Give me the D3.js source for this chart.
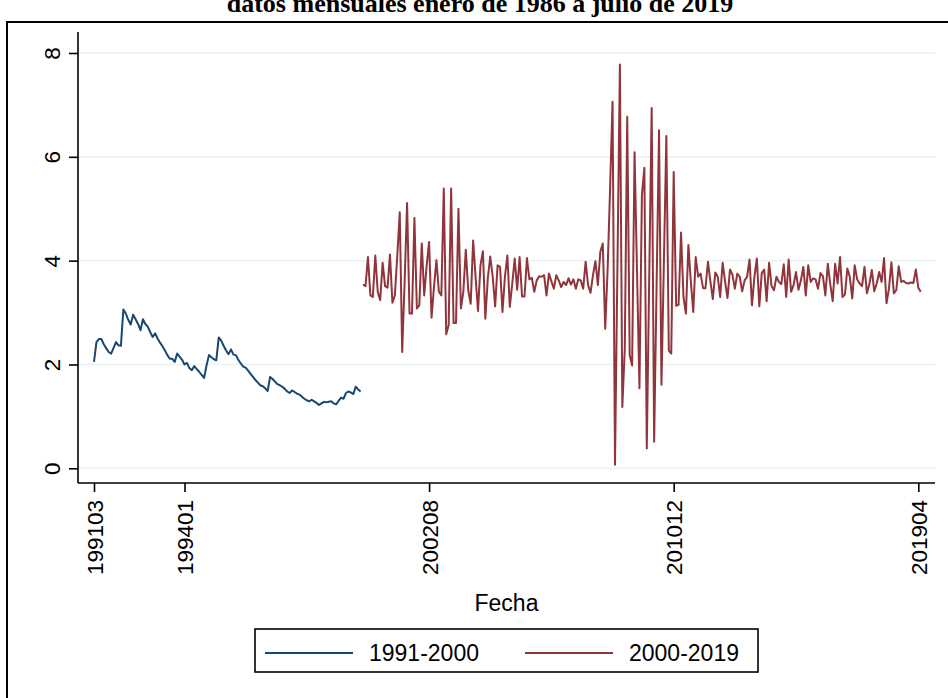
<!DOCTYPE html>
<html>
<head>
<meta charset="utf-8">
<script src="https://cdn.jsdelivr.net/npm/d3@7"></script>
<style>
  html, body { margin: 0; padding: 0; background: #fff; }
  svg { display: block; }
  text { font-family: "Liberation Sans", Arial, sans-serif; fill: #000; }
</style>
</head>
<body>
<div id="chart"></div>
<script>
// observation index of each tick on the x axis and its Fecha label
const tickIndex = [0, 37, 137, 237, 337];
const tickLabels = ["199103", "199401", "200208", "201012", "201904"];
const yTicks = [0, 2, 4, 6, 8];

const seriesNames = ["1991-2000", "2000-2019"];
const seriesColors = ["#1a476f", "#90353b"];

// 1991-2000, starts at observation 0
const blueStart = 0;
const blueValues = [
  2.05, 2.43, 2.49, 2.49, 2.39, 2.31, 2.24, 2.21, 2.32, 2.43,
  2.37, 2.36, 3.06, 2.98, 2.86, 2.77, 2.96, 2.87, 2.78, 2.66,
  2.87, 2.78, 2.73, 2.62, 2.53, 2.60, 2.50, 2.42, 2.35, 2.27,
  2.18, 2.11, 2.11, 2.05, 2.21, 2.15, 2.09, 2.00, 2.03, 1.93,
  1.89, 1.97, 1.91, 1.86, 1.80, 1.74, 1.98, 2.18, 2.14, 2.10,
  2.08, 2.52, 2.46, 2.36, 2.27, 2.20, 2.29, 2.19, 2.18, 2.09,
  2.02, 1.96, 1.94, 1.88, 1.82, 1.76, 1.70, 1.65, 1.60, 1.58,
  1.54, 1.49, 1.76, 1.72, 1.67, 1.62, 1.60, 1.57, 1.53, 1.48,
  1.45, 1.50, 1.47, 1.44, 1.42, 1.38, 1.34, 1.31, 1.29, 1.32,
  1.29, 1.26, 1.22, 1.25, 1.28, 1.27, 1.28, 1.29, 1.25, 1.23,
  1.30, 1.36, 1.34, 1.45, 1.48, 1.46, 1.43, 1.57, 1.52, 1.48
];

// 2000-2019, starts at observation 110
const redStart = 110;
const redValues = [
  3.54, 3.51, 4.07, 3.33, 3.30, 4.10, 3.40, 3.24, 3.96, 3.51,
  3.48, 4.12, 3.19, 3.33, 4.10, 4.93, 2.24, 3.60, 5.11, 2.98,
  2.98, 4.82, 3.08, 3.14, 4.33, 3.33, 3.90, 4.36, 2.90, 3.50,
  4.01, 3.40, 3.33, 5.39, 2.58, 2.76, 5.39, 2.80, 2.80, 5.00,
  3.08, 3.40, 4.21, 3.43, 3.17, 4.39, 3.69, 3.03, 3.91, 4.18,
  2.88, 3.66, 4.08, 3.69, 3.12, 3.91, 3.88, 3.01, 3.69, 4.10,
  3.11, 3.56, 4.04, 3.44, 4.07, 3.31, 3.31, 4.05, 3.64, 3.67,
  3.40, 3.62, 3.70, 3.69, 3.72, 3.33, 3.75, 3.60, 3.46, 3.72,
  3.62, 3.49, 3.59, 3.53, 3.66, 3.54, 3.64, 3.46, 3.64, 3.62,
  3.46, 3.98, 3.53, 3.38, 3.72, 3.99, 3.53, 4.17, 4.33, 2.69,
  3.85, 5.40, 7.06, 0.07, 3.90, 7.78, 1.18, 2.31, 6.77, 2.18,
  1.98, 6.09, 3.80, 1.54, 5.26, 5.79, 0.38, 3.70, 6.94, 0.51,
  3.50, 6.51, 1.61, 4.00, 6.40, 2.27, 2.21, 5.71, 3.13, 3.15,
  4.54, 3.30, 2.98, 4.30, 3.60, 3.01, 4.07, 3.69, 3.75, 3.47,
  3.47, 3.98, 3.60, 3.26, 3.77, 3.69, 3.30, 3.96, 3.60, 3.28,
  3.83, 3.73, 3.46, 3.75, 3.69, 3.41, 3.62, 3.69, 4.02, 3.14,
  3.69, 4.04, 3.12, 3.76, 3.83, 3.22, 3.96, 3.51, 3.43, 3.69,
  3.59, 3.55, 3.93, 3.30, 4.02, 3.40, 3.53, 3.78, 3.44, 3.62,
  3.88, 3.33, 3.91, 3.59, 3.66, 3.64, 3.46, 3.76, 3.70, 3.33,
  3.94, 3.55, 3.22, 3.94, 3.56, 4.07, 3.30, 3.35, 3.85, 3.69,
  3.27, 3.91, 3.64, 3.56, 3.51, 3.88, 3.37, 3.55, 3.82, 3.41,
  3.56, 3.78, 3.59, 4.05, 3.18, 3.46, 3.97, 3.37, 3.43, 3.89,
  3.59, 3.61, 3.57, 3.56, 3.58, 3.57, 3.83, 3.48, 3.40
];

const title = "datos mensuales enero de 1986 a julio de 2019";
const xTitle = "Fecha";

const width = 948, height = 698;
const plot = { left: 78, right: 935, top: 32, bottom: 483 };

const svg = d3.select("#chart").append("svg")
  .attr("width", width)
  .attr("height", height);

svg.append("rect").attr("width", width).attr("height", height).attr("fill", "#fff");

// title (partly above the page edge, as in the original)
svg.append("text")
  .attr("x", 480).attr("y", 12)
  .attr("text-anchor", "middle")
  .style("font-family", "'Liberation Serif', 'Times New Roman', serif")
  .style("font-weight", "bold")
  .style("font-size", "26px")
  .text(title);

// outer graph frame
svg.append("rect")
  .attr("x", 7).attr("y", 22)
  .attr("width", 1000).attr("height", 1000)
  .attr("fill", "none")
  .attr("stroke", "#000")
  .attr("stroke-width", 2);

const x = d3.scaleLinear()
  .domain([0, 337])
  .range([94, 918.3]);

const y = d3.scaleLinear()
  .domain([0, 8])
  .range([468.3, 53]);

// grid
svg.append("g").selectAll("line")
  .data(yTicks)
  .join("line")
  .attr("x1", plot.left).attr("x2", plot.right)
  .attr("y1", d => y(d)).attr("y2", d => y(d))
  .attr("stroke", "#eaf2f3")
  .attr("stroke-width", 1.6);

// y axis
const yAxis = svg.append("g")
  .attr("transform", `translate(${plot.left},0)`)
  .call(d3.axisLeft(y).tickValues(yTicks).tickSize(9).tickSizeOuter(0).tickPadding(18));
yAxis.select(".domain").attr("d", `M0,${plot.top}V${plot.bottom}`).attr("stroke-width", 1.6);
yAxis.selectAll(".tick line").attr("stroke-width", 1.6);
yAxis.selectAll(".tick text")
  .attr("x", null).attr("dy", null)
  .attr("transform", "translate(-18,0) rotate(-90)")
  .attr("text-anchor", "middle")
  .style("font-family", "'Liberation Sans', Arial, sans-serif")
  .style("font-size", "22.5px");

// x axis
const xAxis = svg.append("g")
  .attr("transform", `translate(0,${plot.bottom})`)
  .call(d3.axisBottom(x).tickValues(tickIndex).tickFormat((d, i) => tickLabels[i]).tickSize(9).tickSizeOuter(0));
xAxis.select(".domain").attr("d", `M${plot.left},0H${plot.right}`).attr("stroke-width", 1.6);
xAxis.selectAll(".tick line").attr("stroke-width", 1.6);
xAxis.selectAll(".tick text")
  .attr("y", null).attr("dy", null)
  .attr("transform", "translate(8,17) rotate(-90)")
  .attr("text-anchor", "end")
  .style("font-family", "'Liberation Sans', Arial, sans-serif")
  .style("font-size", "22.5px");

svg.append("text")
  .attr("x", (plot.left + plot.right) / 2).attr("y", 611)
  .attr("text-anchor", "middle")
  .style("font-size", "23px")
  .text(xTitle);

// series
const line = d3.line()
  .x(d => x(d.i))
  .y(d => y(d.v));

const series = [
  blueValues.map((v, k) => ({ i: blueStart + k, v })),
  redValues.map((v, k) => ({ i: redStart + k, v }))
];

svg.append("g").selectAll("path")
  .data(series)
  .join("path")
  .attr("d", line)
  .attr("fill", "none")
  .attr("stroke", (d, k) => seriesColors[k])
  .attr("stroke-width", 2)
  .attr("stroke-linejoin", "round");

// legend
const legend = svg.append("g");
legend.append("rect")
  .attr("x", 255).attr("y", 629)
  .attr("width", 503).attr("height", 43)
  .attr("fill", "#fff")
  .attr("stroke", "#000")
  .attr("stroke-width", 1.6);

const legendX = [265, 525];
const items = legend.selectAll("g.item")
  .data(seriesNames)
  .join("g")
  .attr("class", "item")
  .attr("transform", (d, k) => `translate(${legendX[k]},653)`);
items.append("line")
  .attr("x1", 0).attr("x2", 88)
  .attr("stroke", (d, k) => seriesColors[k])
  .attr("stroke-width", 2);
items.append("text")
  .attr("x", 104).attr("y", 8)
  .style("font-size", "23px")
  .text(d => d);
</script>
</body>
</html>
